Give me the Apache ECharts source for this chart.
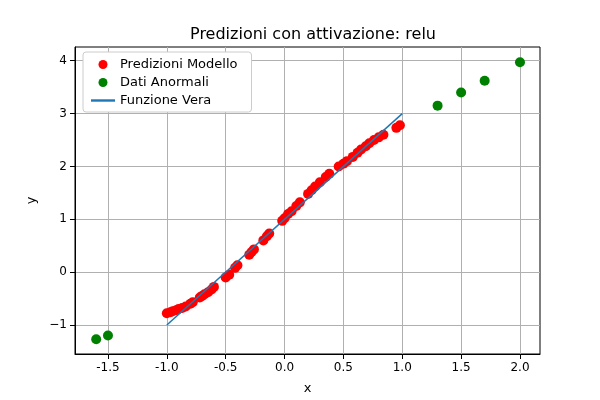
<!DOCTYPE html>
<html>
<head>
<meta charset="utf-8">
<script src="https://cdn.jsdelivr.net/npm/echarts@6/dist/echarts.min.js"></script>
<style>html,body{margin:0;padding:0;background:#fff}#chart{width:600px;height:400px}</style>
</head>
<body>
<div id="chart"></div>
<script>
// predizioni del modello (x, y)
var predX = [-1.0, -0.97, -0.95, -0.92, -0.9, -0.87, -0.84, -0.8, -0.78, -0.72, -0.7, -0.68, -0.65, -0.62, -0.6,
  -0.5, -0.47, -0.42, -0.4, -0.3, -0.28, -0.26, -0.18, -0.15, -0.13, -0.02, 0.0, 0.03, 0.06, 0.1, 0.13,
  0.2, 0.23, 0.26, 0.3, 0.35, 0.38, 0.46, 0.5, 0.53, 0.58, 0.62, 0.65, 0.69, 0.72, 0.76, 0.8, 0.84, 0.95, 0.98];
var predY = [-0.78, -0.76, -0.74, -0.72, -0.70, -0.68, -0.65, -0.6, -0.57, -0.48, -0.45, -0.42, -0.38, -0.33, -0.28,
  -0.1, -0.05, 0.08, 0.13, 0.33, 0.38, 0.43, 0.6, 0.68, 0.73, 0.97, 1.02, 1.1, 1.15, 1.25, 1.32,
  1.48, 1.55, 1.62, 1.7, 1.8, 1.86, 2.0, 2.05, 2.1, 2.18, 2.26, 2.32, 2.38, 2.44, 2.5, 2.55, 2.6, 2.73, 2.78];
var anomX = [-1.6, -1.5, 1.3, 1.5, 1.7, 2.0];
var anomY = [-1.27, -1.2, 3.15, 3.4, 3.62, 3.97];
var trueX = [-1, 1];
var trueY = [-1, 3];
var xTicks = [-1.5, -1.0, -0.5, 0.0, 0.5, 1.0, 1.5, 2.0];
var yTicks = [-1, 0, 1, 2, 3, 4];

function zip(a, b) {
  return a.map(function (v, i) { return [v, b[i]]; });
}

var chart = echarts.init(document.getElementById('chart'));
var font = 'DejaVu Sans';

var option = {
  animation: false,
  textStyle: { fontFamily: font },
  title: {
    text: 'Predizioni con attivazione: relu',
    left: 308, top: 22, textAlign: 'center',
    textStyle: { fontSize: 16, fontWeight: 'normal', color: '#000', fontFamily: font }
  },
  legend: {
    left: 83, top: 52, orient: 'vertical', itemGap: 5,
    backgroundColor: '#fff', borderColor: '#ccc', borderWidth: 1, borderRadius: 3,
    padding: [6, 14, 5, 8],
    textStyle: { fontSize: 13, color: '#000', fontFamily: font },
    data: [
      { name: 'Predizioni Modello', icon: 'circle' },
      { name: 'Dati Anormali', icon: 'circle' },
      { name: 'Funzione Vera', icon: 'path://M0,5L20,5L20,7L0,7Z' }
    ],
    itemWidth: 24, itemHeight: 9
  },
  grid: {
    left: 75, right: 60, top: 47, bottom: 44,
    show: true, borderColor: '#000', borderWidth: 1
  },
  xAxis: {
    type: 'value', min: -1.78, max: 2.17,
    name: 'x', nameLocation: 'middle', nameGap: 28,
    nameTextStyle: { fontSize: 13, color: '#000' },
    axisLine: { onZero: false, lineStyle: { color: '#000' } },
    axisTick: { show: true, customValues: xTicks, lineStyle: { color: '#000' } },
    axisLabel: { customValues: xTicks, color: '#000', fontSize: 12, formatter: function (v) { return v.toFixed(1); } },
    splitLine: { show: true, lineStyle: { color: '#b0b0b0', width: 1 } }
  },
  yAxis: {
    type: 'value', min: -1.55, max: 4.26,
    name: 'y', nameLocation: 'middle', nameGap: 36, nameRotate: 90,
    nameTextStyle: { fontSize: 13, color: '#000' },
    axisLine: { show: true, onZero: false, lineStyle: { color: '#000' } },
    axisTick: { show: true, customValues: yTicks, lineStyle: { color: '#000' } },
    axisLabel: { customValues: yTicks, color: '#000', fontSize: 12, formatter: function (v) { return String(v).replace('-', '\u2212'); } },
    splitLine: { show: true, lineStyle: { color: '#b0b0b0', width: 1 } }
  },
  series: [
    {
      name: 'Predizioni Modello', type: 'scatter', symbolSize: 10,
      itemStyle: { color: '#ff0000', opacity: 1 }, z: 3,
      data: zip(predX, predY)
    },
    {
      name: 'Dati Anormali', type: 'scatter', symbolSize: 10,
      itemStyle: { color: '#008000', opacity: 1 }, z: 3,
      data: zip(anomX, anomY)
    },
    {
      name: 'Funzione Vera', type: 'line', symbol: 'none', z: 4,
      lineStyle: { color: '#1f77b4', width: 1.5 }, itemStyle: { color: '#1f77b4' },
      data: zip(trueX, trueY)
    }
  ]
};
chart.setOption(option);
</script>
</body>
</html>
